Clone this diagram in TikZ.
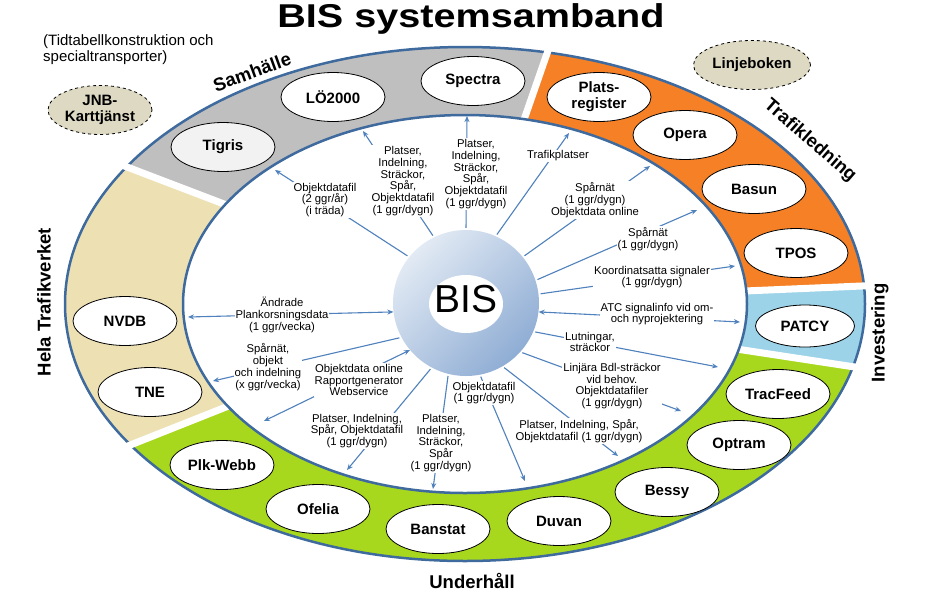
\documentclass[tikz,border=0pt]{standalone}
\usepackage{fontspec}
\setmainfont{Liberation Sans}
\usetikzlibrary{shapes.geometric,arrows.meta}
\definecolor{segGray}{HTML}{BFBFBF}
\definecolor{segBeige}{HTML}{EDE1B3}
\definecolor{segGreen}{HTML}{A8D81E}
\definecolor{segBlue}{HTML}{9CD3E8}
\definecolor{segOrange}{HTML}{F58025}
\definecolor{ringBorder}{HTML}{3E6A9E}
\definecolor{connBlue}{HTML}{4F81BD}
\definecolor{extFill}{HTML}{DDD9C3}
\definecolor{bisLight}{HTML}{E2EAF4}
\definecolor{bisDark}{HTML}{8FADD4}
\newcommand\ringseg[3]{%
  \fill[#1] plot[domain=#2:#3,samples=60] ({465+400*cos(\x)},{304-257*sin(\x)})
    -- plot[domain=#2:#3,samples=60] ({465+282*cos(#2+#3-\x)},{304-189*sin(#2+#3-\x)}) -- cycle;}
\begin{document}
\begin{tikzpicture}[x=1pt,y=-1pt,
  sysnode/.style={ellipse,draw=black,line width=0.8pt,fill=white,inner sep=0pt,
    minimum width=104pt,minimum height=49pt,align=center,
    font=\fontsize{15}{16}\selectfont\bfseries},
  extnode/.style={sysnode,dashed,fill=extFill},
  conn/.style={draw=connBlue,line width=1.1pt,shorten <=2pt,-{Stealth[length=6pt,width=5pt]}},
  twoway/.style={draw=connBlue,line width=1.1pt,{Stealth[length=6pt,width=5pt]}-{Stealth[length=6pt,width=5pt]}},
  lbl/.style={fill=white,inner sep=1pt,align=center,font=\fontsize{11.3}{11.8}\selectfont},
  seglbl/.style={inner sep=0pt,font=\fontsize{18.5}{20}\selectfont\bfseries},
]
\useasboundingbox (0,0) rectangle (938,598);

% ring segments
\ringseg{segGray}{78}{148}
\ringseg{segBeige}{148}{213}
\ringseg{segGreen}{213}{346}
\ringseg{segBlue}{-14}{4}
\ringseg{segOrange}{4}{78}
\draw[ringBorder,line width=2.5pt] (465,304) ellipse[x radius=400pt,y radius=257pt];
\foreach \t in {78,148,213,-14,4}
  \draw[white,line width=7pt] ({465+270*cos(\t)},{304-180*sin(\t)}) -- ({465+414*cos(\t)},{304-268*sin(\t)});
\draw[ringBorder,line width=2.5pt,fill=white] (465,304) ellipse[x radius=282pt,y radius=189pt];

% title and note
\node[anchor=base] (title) at (471,27) {\scalebox{1.2}[1]{\fontsize{33}{34}\selectfont\bfseries BIS systemsamband}};
\node[anchor=north west,inner sep=0pt,align=left,font=\fontsize{15}{16}\selectfont] (note) at (43,34)
  {(Tidtabellkonstruktion och\\specialtransporter)};

% segment labels
\node[seglbl,rotate=20] (lsam) at (252,72) {Samhälle};
\node[seglbl,rotate=-41] (ltraf) at (810,141) {Trafikledning};
\node[seglbl,rotate=90] (lhela) at (44,302) {Hela Trafikverket};
\node[seglbl,rotate=90] (linv) at (880,333) {Investering};
\node[seglbl] (lund) at (472,581) {Underhåll};

% external dashed nodes
\node[extnode] (jnb) at (100,110) {JNB-\\Karttjänst};
\node[extnode,minimum width=117pt] (linje) at (752,65) {Linjeboken};

% system nodes
\node[sysnode,fill=black!5] (tigris) at (223,147) {Tigris};
\node[sysnode] (lo) at (333,97) {LÖ2000};
\node[sysnode] (spectra) at (473,81) {Spectra};
\node[sysnode] (plats) at (599,97) {Plats-\\register};
\node[sysnode] (opera) at (685,135) {Opera};
\node[sysnode] (basun) at (754,189) {Basun};
\node[sysnode] (tpos) at (796,253) {TPOS};
\node[sysnode,minimum width=99pt,minimum height=42pt] (patcy) at (805,326) {PATCY};
\node[sysnode] (tracfeed) at (778,394) {TracFeed};
\node[sysnode] (optram) at (739,445) {Optram};
\node[sysnode] (bessy) at (667,492) {Bessy};
\node[sysnode] (duvan) at (559,521) {Duvan};
\node[sysnode] (banstat) at (438,529) {Banstat};
\node[sysnode] (ofelia) at (318,509) {Ofelia};
\node[sysnode] (plk) at (222,465) {Plk-Webb};
\node[sysnode] (tne) at (150,392) {TNE};
\node[sysnode] (nvdb) at (125,321) {NVDB};

% BIS hub
\node[circle,minimum size=146pt,inner sep=0pt,top color=bisLight,bottom color=bisDark,shading angle=45] (bis) at (466,303) {};
\fill[white] (466,304) ellipse[x radius=37pt,y radius=29pt];
\node[font=\fontsize{39}{40}\selectfont,inner sep=0pt] (bistext) at (466,299) {BIS};

% connector end points (on the inner ring border)
\coordinate (e1) at (275,170);
\coordinate (e2) at (363,131);
\coordinate (e3) at (467,116);
\coordinate (e4) at (569,133);
\coordinate (e5) at (650,166);
\coordinate (e6) at (697,210);
\coordinate (e7) at (735,266);
\coordinate (e8) at (740,322);
\coordinate (e9) at (718,367);
\coordinate (e10) at (681,411);
\coordinate (e11) at (618,456);
\coordinate (e12) at (525,481);
\coordinate (e13) at (433,489);
\coordinate (e14) at (347,470);
\coordinate (e15) at (264,421);
\coordinate (e16) at (213,381);
\coordinate (e17) at (188,317);

\draw[conn] (bis.141) -- (e1);
\draw[conn] (bis.116) -- (e2);
\draw[conn] (bis.90) -- (e3);
\draw[conn] (bis.66) -- (e4);
\draw[conn] (bis.39) -- (e5);
\draw[conn] (bis.18) -- (e6);
\draw[conn] (bis.7) -- (e7);
\draw[twoway] (bis.-7.5) -- (e8);
\draw[conn] (bis.-23) -- (e9);
\draw[conn] (bis.-42) -- (e10);
\draw[conn] (bis.-60) -- (e11);
\draw[conn] (bis.-79) -- (e12);
\draw[conn] (bis.-104) -- (e13);
\draw[conn] (bis.-118) -- (e14);
\draw[twoway] (bis.-140) -- (e15);
\draw[conn] (bis.-152) -- (e16);
\draw[twoway] (bis.-173) -- (e17);

% connector labels
\node[lbl] (l1) at (325,200) {Objektdatafil\\(2 ggr/år)\\(i träda)};
\node[lbl] (l2) at (403,181) {Platser,\\Indelning,\\Sträckor,\\Spår,\\Objektdatafil\\(1 ggr/dygn)};
\node[lbl] (l3) at (476,174) {Platser,\\Indelning,\\Sträckor,\\Spår,\\Objektdatafil\\(1 ggr/dygn)};
\node[lbl] (l4) at (558,156) {Trafikplatser};
\node[lbl] (l5) at (595,200) {Spårnät\\(1 ggr/dygn)\\Objektdata online};
\node[lbl] (l6) at (648,239) {Spårnät\\(1 ggr/dygn)};
\node[lbl] (l7) at (652,277) {Koordinatsatta signaler\\(1 ggr/dygn)};
\node[lbl] (l8) at (657,314) {ATC signalinfo vid om-\\och nyprojektering};
\node[lbl] (l9) at (590,342) {Lutningar,\\sträckor};
\node[lbl] (l10) at (612,386) {Linjära Bdl-sträckor\\vid behov.\\Objektdatafiler\\(1 ggr/dygn)};
\node[lbl] (l11) at (579,431) {Platser, Indelning, Spår,\\Objektdatafil (1 ggr/dygn)};
\node[lbl] (l12) at (484,393) {Objektdatafil\\(1 ggr/dygn)};
\node[lbl] (l13) at (441,443) {Platser,\\Indelning,\\Sträckor,\\Spår\\(1 ggr/dygn)};
\node[lbl] (l14) at (357,431) {Platser, Indelning,\\Spår, Objektdatafil\\(1 ggr/dygn)};
\node[lbl] (l15) at (359,380) {Objektdata online\\Rapportgenerator\\Webservice};
\node[lbl] (l16) at (268,367) {Spårnät,\\objekt\\och indelning\\(x ggr/vecka)};
\node[lbl] (l17) at (282,315) {Ändrade\\Plankorsningsdata\\(1 ggr/vecka)};
\end{tikzpicture}
\end{document}
